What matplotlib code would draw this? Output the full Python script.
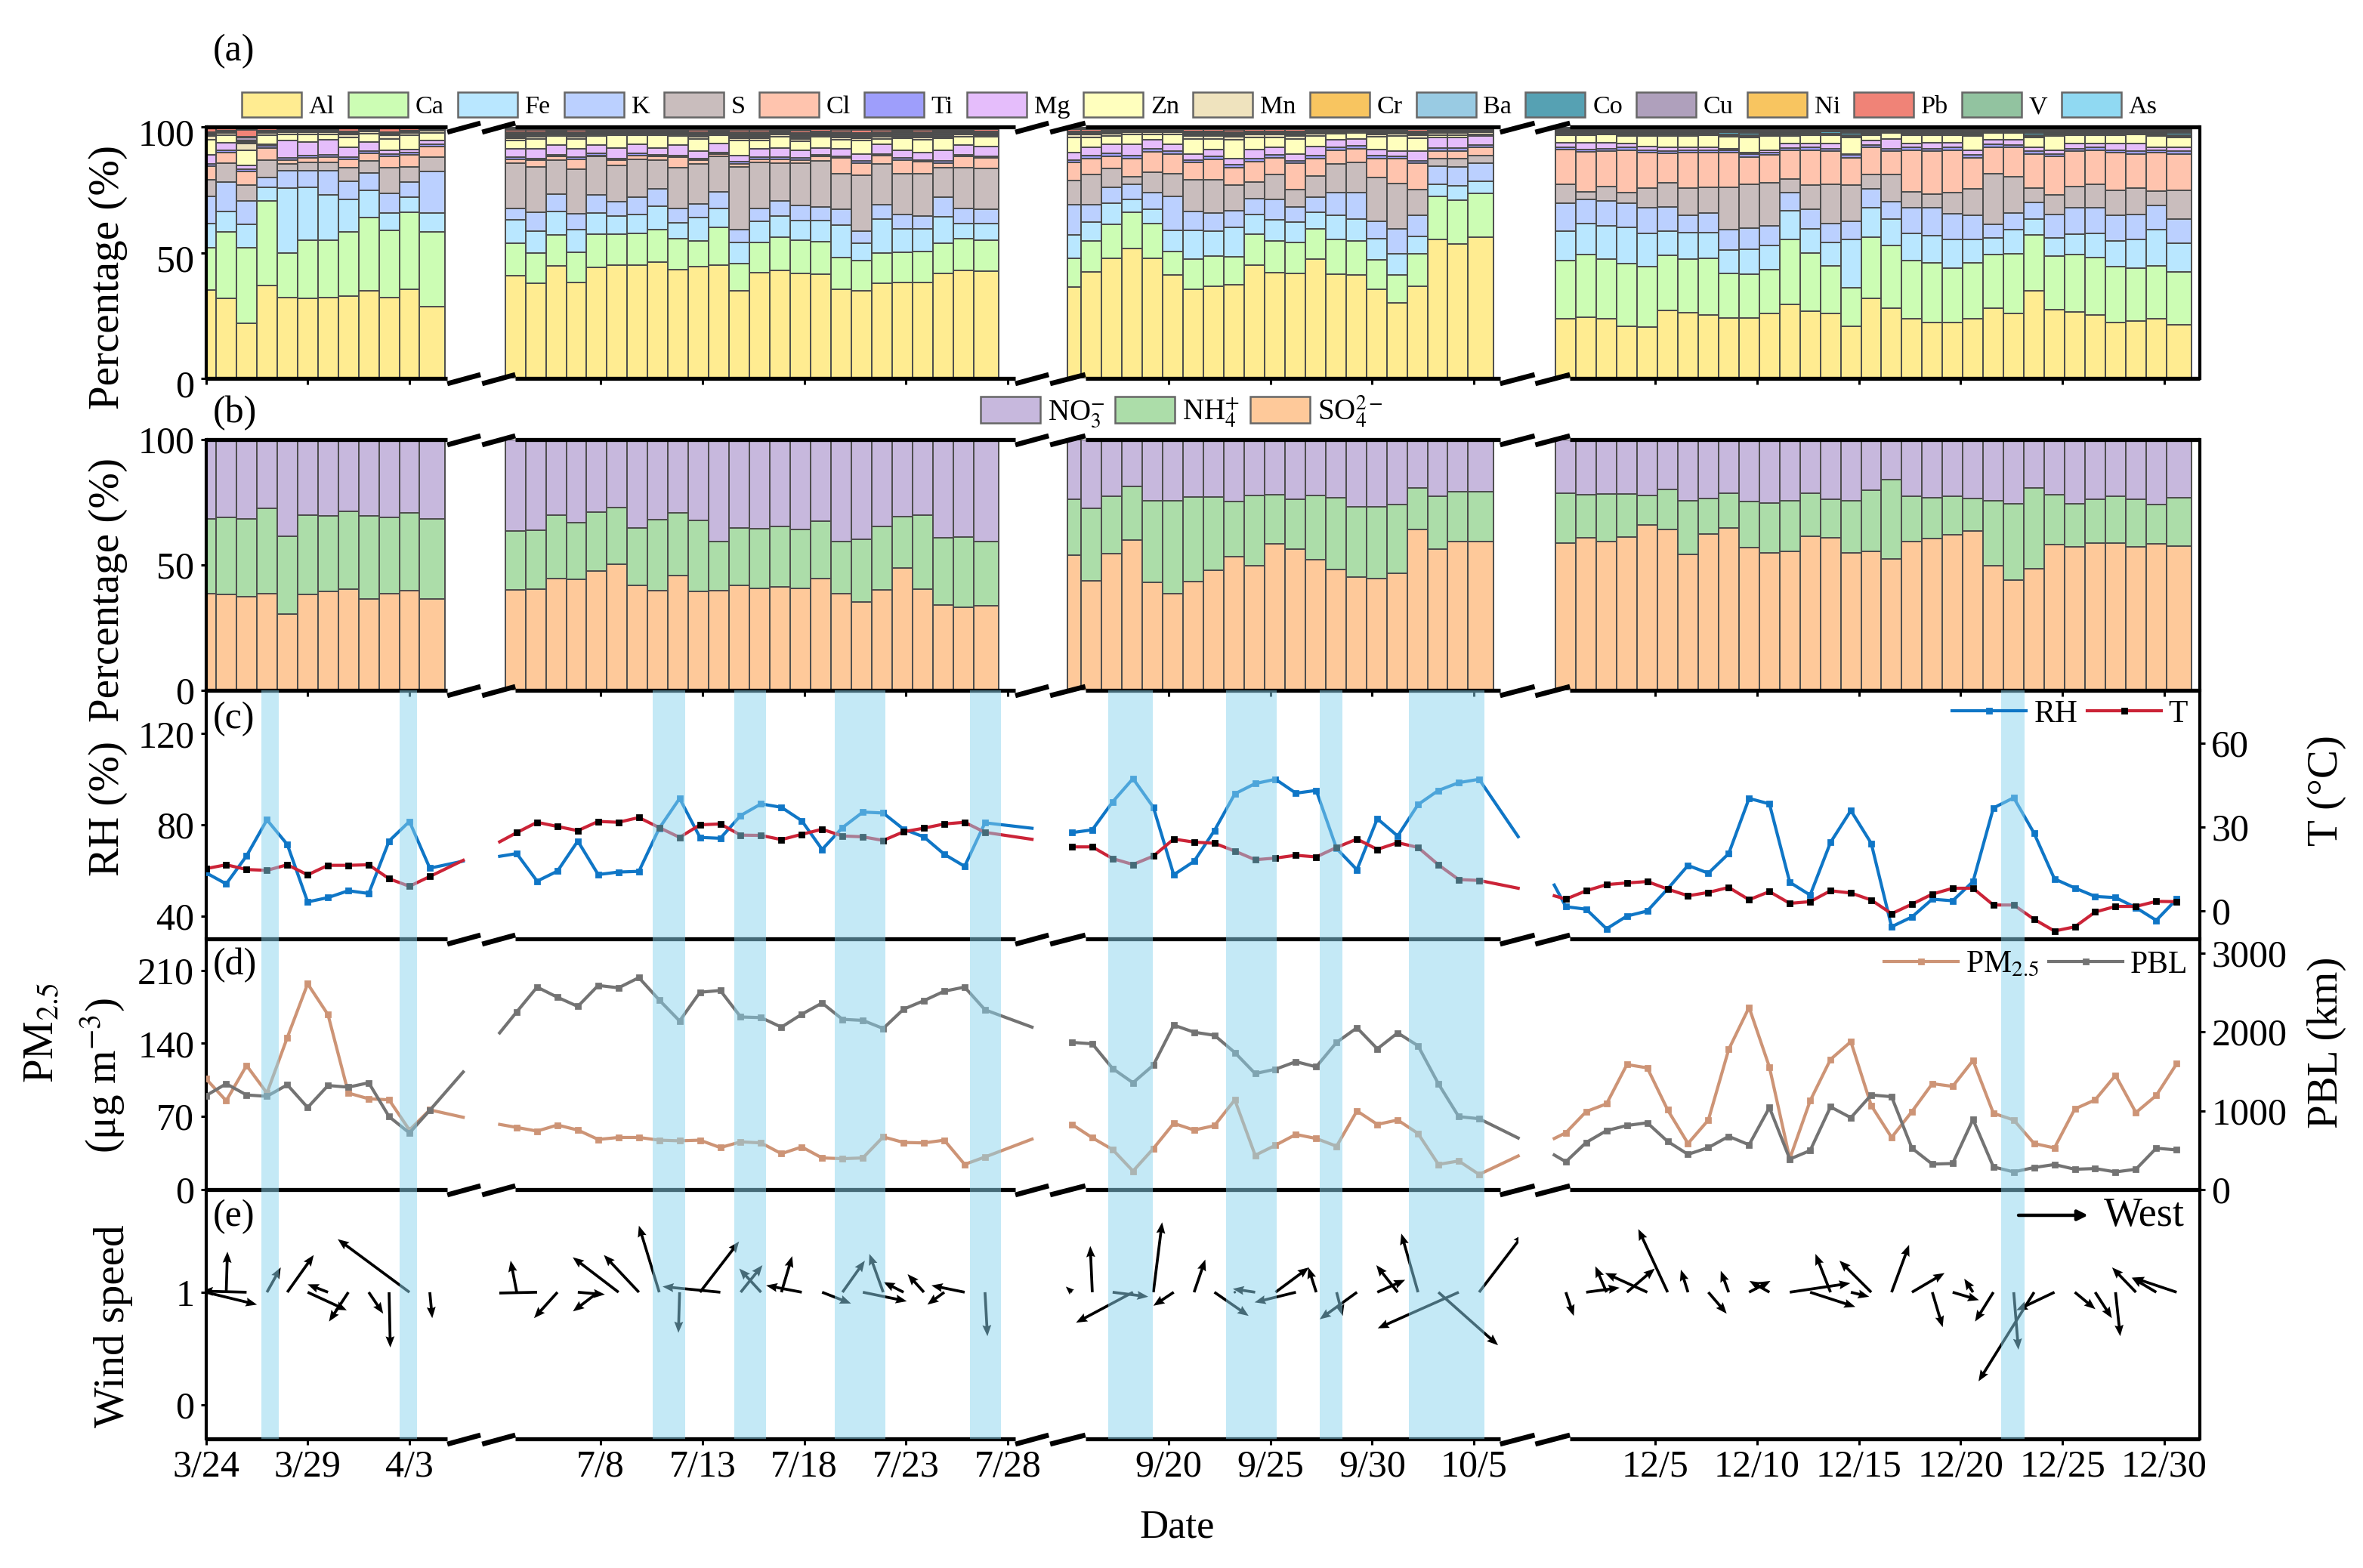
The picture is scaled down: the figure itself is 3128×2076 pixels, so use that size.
import numpy as np
import matplotlib
matplotlib.use("Agg")
import matplotlib.pyplot as plt
from matplotlib.patches import Patch, Rectangle
from matplotlib.transforms import ScaledTranslation

plt.rcParams['font.family'] = ['Liberation Serif', 'DejaVu Serif']
plt.rcParams['mathtext.fontset'] = 'stix'

W, H = 3128, 2076
DAY_PX = 26.95

# top of each stacked layer (%), bars in order: spring 12, summer 24, autumn 21, winter 31
al_top = [35, 31.7, 22, 37, 32, 31.7, 32, 32.7, 34.7, 32, 35.4, 28.4,
          40.9, 37.7, 44.7, 38.2, 44.2, 44.9, 44.9, 46.2, 43.2, 44.4, 45, 34.7, 41.9, 43, 41.7, 41.4, 35.4, 34.7, 37.7, 38.2, 38.2, 41.7, 43, 42.7,
          36.3, 42.3, 47.8, 51.6, 47.8, 41, 35.3, 36.5, 37.3, 45, 42.1, 41.8, 47.5, 41.3, 41, 35.3, 30, 36.6, 55.3, 53.5, 56.3,
          23.8, 24.3, 23.8, 20.8, 20.3, 27, 26, 25.3, 24, 24, 25.8, 29.5, 26.8, 25.8, 20.8, 31.8, 27.8, 23.8, 22.3, 22.1, 23.8, 27.8, 25.8, 34.8, 27.3, 26.5, 25.3, 22.1, 22.8, 23.6, 21.3]
ca_top = [52, 58.2, 52, 70.7, 50, 55, 55, 58.4, 64, 59, 66, 58.4,
          53.7, 49.7, 57.2, 50.2, 57.4, 57.4, 57.7, 59.2, 55.7, 54.7, 60, 45.7, 54.2, 56.2, 55, 54.4, 47.9, 46.7, 50, 50.2, 50.4, 53.7, 55.7, 55,
          47.8, 54.8, 61.3, 66.1, 61.6, 50.6, 47.5, 48.5, 48.3, 57.5, 54.8, 54, 59.5, 55.3, 54.6, 47, 41.1, 49.5, 72.3, 70.8, 73.5,
          46.8, 49.3, 47.3, 45.5, 44.5, 48.8, 47.3, 47.6, 41.8, 41.3, 43.3, 55.3, 50, 44.6, 36, 56.3, 52.8, 46.8, 45.8, 43.8, 45.8, 49.1, 49.5, 57.1, 48.5, 49.1, 48.1, 44.5, 43.8, 44.8, 42.3]
fe_top = [61.5, 66.4, 61.2, 76, 75.7, 76, 73, 71.2, 74.7, 65.7, 72, 65.7,
          63.2, 58.7, 66.4, 59.2, 65.7, 64.7, 65.2, 68.4, 61.9, 63.9, 67.5, 54.2, 62.5, 64.7, 62.7, 62.7, 61, 53.9, 63.4, 59.4, 59.4, 64.2, 61.7, 61.7,
          57, 62.1, 69.6, 71.3, 67.3, 58.8, 58.8, 58.5, 60, 65.3, 63, 62.1, 66.1, 64.8, 63.3, 55.6, 49.5, 56.6, 77.3, 76.6, 78.5,
          58.6, 61.6, 60.8, 60.1, 57.8, 58.5, 58.1, 58.1, 51.1, 51.5, 52.8, 66.8, 59.6, 54.1, 55.3, 67.8, 63.3, 57.8, 56.8, 55.3, 55.3, 55.8, 59.3, 63.3, 55.8, 57.3, 57.8, 54.8, 55.3, 59.3, 53.8]
k_top = [72.5, 78, 70.6, 80, 82.6, 82.7, 82.7, 78.4, 81.8, 73.7, 78, 82.4,
         67.7, 66, 73.2, 65.5, 73, 70.2, 72.2, 75.5, 67.7, 69.4, 74.2, 59.2, 67.7, 70.7, 68.7, 68.2, 67.2, 58.7, 69.2, 65.2, 64.7, 72.2, 67.7, 67.4,
         69.1, 69.1, 76.1, 77.1, 73.8, 72.3, 66.3, 65.8, 66.8, 71.6, 71.1, 68.3, 72, 73.8, 73.8, 62.6, 59.5, 64.8, 84.5, 84.1, 85.5,
         69.6, 71.1, 70.5, 69.8, 67.8, 68.1, 65, 65.8, 59.3, 59.8, 60.6, 73.8, 67.3, 61.5, 62.5, 75.3, 70.3, 67.8, 67.8, 65.5, 64.8, 61.3, 65.8, 70.1, 65.3, 67.8, 67.8, 64.8, 65.1, 68.8, 63.3]
s_top = [79, 85.7, 77, 86.7, 85.4, 86, 86, 83.7, 86.4, 83.7, 84, 88,
         85.7, 84.2, 86.7, 83.2, 88.2, 84.7, 87.2, 86.7, 83.7, 85.2, 88.2, 84, 85.9, 85.7, 85.7, 86.4, 81.5, 80.9, 85.2, 81.5, 81.5, 83.7, 83.7, 83.4,
         78.8, 81, 83.5, 80.1, 82.1, 81.5, 79.1, 79, 76.8, 78.1, 81, 75, 80.5, 85.3, 85.8, 79.8, 77.5, 75, 87.3, 87.3, 88.5,
         77.3, 74.3, 76.3, 73.8, 75.8, 77.8, 75.8, 76, 76, 77.3, 77.8, 79.3, 76.8, 77.3, 76.8, 81.1, 81.1, 74.3, 73.3, 73.8, 75.3, 81.5, 80.3, 75.8, 73.1, 76.3, 77.3, 74.8, 75.8, 74.5, 74.8]
cl_top = [84.5, 89.7, 82.4, 91.5, 86.7, 87.7, 88, 87.2, 89.6, 88.4, 89, 92.2,
          87.2, 86.7, 88.2, 87.2, 88.7, 86.7, 88.7, 88.2, 87.9, 86.7, 89.2, 85.4, 87.2, 87.2, 86.9, 88.2, 87.7, 85.7, 88.5, 86.9, 86.2, 85.7, 88.2, 87.7,
          85.8, 87.5, 88.3, 87.5, 90.1, 89.3, 85.8, 87.1, 83.8, 86.3, 87.8, 85.5, 87.5, 90.8, 91.3, 87.5, 87.3, 85.5, 90.5, 90.5, 91.8,
          91, 90, 90.3, 90.8, 89.8, 89.5, 89.8, 89.8, 89.8, 88.1, 88.8, 90.6, 90.8, 90.3, 87.8, 91.8, 90.3, 90.8, 90.3, 90.8, 87.8, 92, 91.8, 89.3, 88.3, 90.3, 90.8, 89.8, 89.3, 89.8, 89.3]
mg_top = [89, 93.8, 84.7, 93, 94.7, 94, 95, 92, 94, 90.7, 91, 94.7,
          91.2, 91.2, 92.9, 91.2, 92.9, 91.7, 93.2, 91.7, 92.9, 90.4, 93.4, 88.7, 91.2, 91.7, 90.7, 91.5, 91.2, 89.2, 93, 90.7, 89.7, 90.7, 92.7, 92.2,
          89.8, 91.8, 93, 93, 94.8, 93.1, 89.3, 91, 87.3, 91, 92, 89.3, 92.3, 94.8, 95.3, 91, 90.5, 90.3, 95.8, 95.8, 96.3,
          93.8, 93.8, 93.8, 93.3, 92.3, 91.8, 92, 91.8, 91.3, 89.8, 90.8, 93.3, 93.3, 93.5, 89.3, 94.6, 95.3, 93.5, 93.8, 93.8, 90.8, 94.8, 94.8, 91.8, 90.8, 93.3, 93.5, 93.3, 93.3, 91.8, 91.8]
zn_top = [95, 96.7, 90.7, 96.7, 97, 97, 97, 95.7, 97.4, 95.2, 96.7, 97.7,
          94.7, 95.2, 96.4, 95.2, 96.5, 96.7, 96.7, 96.7, 96.4, 95.2, 96.7, 94.7, 94.7, 96.2, 94.2, 96, 95, 94.5, 95.2, 95.4, 95, 95.4, 96.2, 96,
          95.8, 95.8, 96.3, 97.1, 97.1, 97.1, 95.3, 95.3, 94.8, 95.8, 95.8, 95.3, 96.3, 97.3, 97.5, 96.1, 96.3, 95.6, 96.8, 96.8, 97.1,
          96.8, 96.8, 97, 96.3, 96.3, 96.5, 96.5, 96.8, 96, 95.8, 96.3, 96.5, 96.8, 96.6, 95.8, 96.8, 97.5, 96.8, 96.8, 96.8, 96.3, 97.5, 97.5, 95.8, 96.5, 96.8, 96.8, 96.8, 97.1, 96.3, 95.8]

# thin layers, one estimate per season (spring, summer, autumn, winter)
ti_share = [0.9, 0.7, 1.1, 1.0]
mn_share = [0.9, 0.5, 0.7, 0.3]
cr_share = [0.1, 0.2, 0.1, 0.1]
ba_share = [0.2, 0.3, 0.2, 0.2]
co_share = [0.1, 0.2, 0.2, 0.5]
cu_share = [0.3, 0.3, 0.3, 0.3]
ni_share = [0.1, 0.2, 0.1, 0.1]
pb_share = [0.9, 0.5, 0.5, 0.3]
v_share = [0.2, 0.3, 0.3, 0.3]
as_share = [0.2, 0.4, 0.3, 0.4]

so4_top = [38.5, 38.4, 37.3, 38.6, 30.3, 38.2, 39.4, 40.4, 36.3, 38.6, 39.9, 36.3,
           40.2, 40.4, 44.7, 44.2, 47.6, 50.4, 41.9, 39.9, 45.9, 39.6, 39.9, 41.9, 40.6, 41.2, 40.8, 44.7, 38.7, 35.1, 40.2, 48.7, 40.4, 34, 33.1, 33.8,
           53.9, 43.6, 54.4, 59.9, 43.2, 38.6, 43.4, 47.9, 53.2, 49.6, 58.4, 56.2, 52.2, 48.1, 45.2, 44.6, 46.7, 64.3, 56.2, 59.2, 59.2,
           58.6, 60.7, 59.4, 61.1, 66, 64.3, 54.2, 62.2, 64.7, 56.9, 54.9, 55.4, 61.4, 60.9, 54.9, 55.4, 52.4, 59.4, 60.4, 61.9, 63.7, 49.6, 43.9, 48.6, 58.2, 57.1, 58.6, 58.6, 57.1, 58.4, 57.4]
nh4_top = [68.4, 69, 68.5, 72.5, 61.4, 70, 69.5, 71.3, 69.5, 69, 70.7, 68.3,
           63.5, 64, 70, 67, 71.2, 73, 64.8, 68.2, 70.7, 67.8, 59.4, 64.8, 64.5, 65.3, 64.2, 67.5, 59.4, 60.2, 65.3, 69.2, 70, 60.9, 61.1, 59.4,
           76.3, 72.5, 77.5, 81.2, 75.5, 75.5, 77, 77, 75.3, 77.8, 78, 76.3, 77.8, 76.8, 73.2, 73.2, 74, 80.7, 77.5, 79.3, 79.3,
           78.5, 78, 78.2, 78.2, 77.8, 80.1, 75.7, 76.5, 78.5, 75.3, 74.7, 75.7, 78.5, 76.3, 75.5, 79.7, 84, 77.5, 76.8, 77.3, 76.5, 75.5, 74.3, 80.7, 78, 74.5, 76.2, 77.5, 76.2, 74, 76.7]

# lines per season; winter/summer start and summer/spring/autumn end are cut at the break
rh_spring = [59, 54.1, 66.4, 82.2, 71.4, 46.2, 48.1, 51.1, 49.9, 72.9, 81.5, 61, 64.1]
rh_summer = [66.2, 67.4, 55.3, 59.7, 72.9, 58.2, 59.3, 59.6, 78.5, 91.6, 74.5, 74.1, 84.1, 89.2, 87.7, 81.8, 69.2, 78.8, 85.6, 85.2, 78.1, 74.7, 67.1, 61.8, 80.9, 78.5]
rh_autumn = [76.6, 77.8, 90.1, 100.3, 87.7, 58.1, 64, 77.5, 93.6, 98.1, 100, 93.9, 95.1, 69.6, 60.3, 82.7, 75.1, 88.9, 95.1, 98.5, 100, 74.8]
rh_winter = [53.6, 44.1, 43, 34.4, 40, 42.2, 51.9, 62.2, 58.8, 67.4, 91.6, 89.2, 54.8, 49.2, 72.3, 86.3, 71.9, 35.3, 39.6, 47.4, 46.7, 55.1, 87.4, 91.9, 76.3, 56.3, 52.3, 48.6, 48.1, 43.7, 38.1, 47.4]

t_spring = [15.1, 16.5, 14.8, 14.5, 16.5, 12.9, 16.3, 16.3, 16.5, 11.5, 8.8, 12.3, 18.1]
t_summer = [24.7, 28, 31.7, 30.2, 28.7, 32, 31.7, 33.4, 29.8, 26.3, 30.8, 31.1, 27.1, 27, 25.5, 27.4, 29.2, 26.8, 26.5, 25.2, 28.3, 29.6, 31.1, 31.7, 28.1, 25.6]
t_autumn = [22.9, 22.9, 18.7, 16.6, 19.6, 25.7, 24.6, 24.2, 21.4, 18.3, 18.9, 19.9, 19.3, 22.7, 25.7, 22, 24.4, 22.7, 16.5, 11.2, 10.9, 8.1]
t_winter = [5.4, 4.2, 7.2, 9.4, 10, 10.5, 7.8, 5.4, 6.6, 8.4, 4, 6.9, 2.7, 3.3, 7.2, 6.4, 3.9, -1, 2.4, 6, 8.1, 8.1, 2.1, 2.1, -3, -7.2, -5.7, -0.4, 1.6, 1.6, 3.4, 3.3]

pm_spring = [106.2, 85, 118.8, 92.4, 145.5, 197, 167.4, 92.4, 86.9, 85.9, 57, 76.3, 69.2]
pm_summer = [62.4, 59.5, 56, 61.8, 57, 48, 49.9, 49.9, 47.3, 46.7, 47.3, 40.2, 45.7, 44.7, 34.4, 40.8, 30.3, 29.6, 30.3, 50.5, 45.1, 44.7, 47.3, 24.1, 31.2, 48.3]
pm_autumn = [62.4, 49.6, 38.3, 17.7, 39.3, 63.4, 57, 61.2, 85.9, 32.8, 42.5, 52.8, 48.9, 41.5, 75.3, 62.4, 66.6, 53.7, 24.1, 27.4, 14.5, 32.2]
pm_winter = [48.9, 54.4, 74.7, 82.1, 119.7, 116.5, 76.3, 44.1, 66.6, 134.2, 174.4, 117.2, 29.6, 85, 124.6, 141.6, 80.5, 49.9, 74.7, 101.4, 98.8, 123.6, 73.1, 66.6, 44.1, 39.9, 77.2, 85.9, 109.4, 73.7, 90.1, 120.4]

pbl_spring = [1191, 1342, 1200, 1183, 1329, 1041, 1320, 1299, 1355, 925, 718, 1006, 1492]
pbl_summer = [1987, 2254, 2568, 2439, 2323, 2589, 2559, 2688, 2404, 2138, 2503, 2525, 2189, 2181, 2060, 2224, 2366, 2159, 2146, 2043, 2288, 2396, 2516, 2568, 2280, 2060]
pbl_autumn = [1867, 1849, 1535, 1355, 1578, 2086, 1996, 1957, 1738, 1471, 1527, 1622, 1557, 1867, 2052, 1785, 1987, 1824, 1342, 925, 899, 654]
pbl_winter = [439, 353, 598, 748, 813, 847, 611, 447, 533, 675, 568, 1041, 387, 495, 1049, 912, 1200, 1178, 525, 323, 331, 890, 288, 224, 280, 318, 258, 267, 224, 258, 525, 503]

# wind vectors: u in days of axis length, v in y units
wind_u_spring = [2.51, 0.06, -2.2, 0.68, 1.3, 1.92, -1, -0.95, 0.71, 0.06, -3.52, 0.12]
wind_v_spring = [-0.11, 0.36, 0.01, 0.22, 0.33, -0.16, 0.07, -0.26, -0.19, -0.49, 0.47, -0.23]
wind_u_summer = [-0.3, -2.6, -1.15, 1.33, -1.24, -2.25, -1.72, -1, -0.06, 1.92, -2.84, 1.07, -1.07, 0.53, -1.75, 1.42, 1.1, 2.16, -0.68, -0.98, -0.8, -0.83, -1.63, 0.12]
wind_v_summer = [0.28, -0.01, -0.23, -0.02, -0.17, 0.31, 0.33, 0.59, -0.36, 0.45, 0.05, 0.24, 0.21, 0.32, 0.06, -0.1, 0.28, -0.08, 0.34, 0.09, 0.16, -0.11, 0.06, -0.39]
wind_u_autumn = [-0.3, -0.1, 1.75, -2.8, 0.43, -1, 0.55, 1.68, -0.1, -1.1, 1.64, -2.03, -0.39, 0.3, -1.83, 1.37, -1.05, -0.82, 2.93, -3.98, 2.2]
wind_v_autumn = [0.05, 0.41, -0.04, -0.27, 0.62, -0.12, 0.29, -0.21, 0.01, 0.03, 0.22, -0.09, 0.22, -0.21, -0.24, 0.11, 0.24, 0.52, -0.47, -0.32, 0.52]
wind_u_winter = [0.39, 1.64, -0.55, 1.37, -2.07, -1.44, -0.35, 0.9, -0.39, 1.05, -0.98, 2.97, 2.22, -0.74, 0.9, -1.56, 0.86, 1.6, 0.51, 1.29, -0.43, -0.9, 0.23, -2.73, -1.87, 1.01, 0.82, 0.23, -1.17, -1.21, -2.15]
wind_v_winter = [-0.21, 0.04, 0.23, 0.21, 0.17, 0.56, 0.2, -0.19, 0.19, 0.1, 0.1, 0.08, -0.13, 0.34, -0.04, 0.28, 0.42, 0.17, -0.31, -0.07, 0.12, -0.26, -0.51, -0.79, -0.16, -0.15, -0.23, -0.39, 0.22, 0.13, 0.13]

tick_labels = ['3/24', '3/29', '4/3', '7/8', '7/13', '7/18', '7/23', '7/28',
               '9/20', '9/25', '9/30', '10/5', '12/5', '12/10', '12/15', '12/20', '12/25', '12/30']
species = ['Al', 'Ca', 'Fe', 'K', 'S', 'Cl', 'Ti', 'Mg', 'Zn', 'Mn', 'Cr', 'Ba', 'Co', 'Cu', 'Ni', 'Pb', 'V', 'As']
species_col = ['#FFEC91', '#CCFDB4', '#B9E7FF', '#BBD0FF', '#C9BDBD', '#FFC4AE', '#9E9EFB', '#E5BDFB', '#FFFFBE',
               '#EFE3BE', '#F8C560', '#99CBE3', '#56A1B3', '#AFA0BC', '#F8C560', '#F08377', '#92C3A0', '#90D9F2']

# the broken axis: one long x axis, each season shifted to sit where it is drawn
n_bars = [12, 24, 21, 31]
bar_start = [0, 15.2, 42.5, 66.8]
bar_cut = [None, None, 42.32, None]
line_start = [0, 15.27, 42.54, 66.8]
cut_left = [None, 14.43, None, 66.23]
cut_right = [12.64, 40.58, 64.46, None]
x_max = 97.94
tick_pos = [0, 5, 10, 19.39, 24.39, 29.39, 34.39, 39.39, 47.29, 52.29, 57.29, 62.29,
            71.19, 76.19, 81.19, 86.19, 91.19, 96.19]
spine_parts = [(0, 11.86), (15.2, 39.76), (43.2, 63.57), (67, x_max)]
slash_parts = [(11.86, 13.49), (13.57, 15.2), (39.76, 41.4), (41.47, 43.2), (63.57, 65.27), (65.3, 67)]
bands = [(2.73, 3.58), (9.52, 10.37), (21.95, 23.55), (25.96, 27.51), (30.89, 33.38), (37.53, 39.05),
         (44.32, 46.51), (50.11, 52.6), (54.71, 55.83), (59.09, 62.8), (88.18, 89.33)]


def px(x, y):
    return x / W, 1 - y / H


def make_axes(top, bottom):
    ax = fig.add_axes([272.5 / W, 1 - bottom / H, (2912 - 272.5) / W, (bottom - top) / H])
    ax.set_xlim(0, x_max)
    for side in ['top', 'bottom', 'right']:
        ax.spines[side].set_visible(False)
    ax.spines['left'].set_linewidth(1.5)
    ax.set_facecolor('none')
    ax.tick_params(axis='y', length=2.5, width=1.1, pad=3, labelsize=18)
    ax.tick_params(axis='x', length=2.8, width=1.1, pad=2.5, labelsize=18)
    ax.set_xticks(tick_pos)
    ax.set_xticklabels([])
    return ax


def draw_frame(ax, h_px, top=False, right=True):
    trans = ax.get_xaxis_transform()
    levels = [0, 1] if top else [0]
    for lev in levels:
        for a, b in spine_parts:
            ax.plot([a, b], [lev, lev], color='k', lw=1.9, transform=trans, clip_on=False,
                    solid_capstyle='butt', zorder=3)
        for a, b in slash_parts:
            ax.plot([a, b], [lev - 7 / h_px, lev + 5 / h_px], color='k', lw=2.4, transform=trans,
                    clip_on=False, solid_capstyle='butt', zorder=3)
    if right:
        ax.plot([x_max, x_max], [0, 1], color='k', lw=1.5, transform=trans, clip_on=False, zorder=3)


def draw_bands(ax):
    for a, b in bands:
        ax.axvspan(a, b, color='#8BD5EF', alpha=0.5, lw=0, zorder=10)


def bar_geometry():
    left, width = [], []
    for st, n, cut in zip(bar_start, n_bars, bar_cut):
        lefts = list(st - 0.5 + np.arange(n))
        widths = [1] * (n - 1) + [1.25]
        if cut is not None:
            widths[0] = lefts[0] + 1 - cut
            lefts[0] = cut
        left.extend(lefts)
        width.extend(widths)
    return np.array(left), np.array(width)


def season_values(shares):
    return np.repeat(shares, n_bars)


def plot_line(ax, seasons, color, marker_color):
    line = None
    for i, vals in enumerate(seasons):
        n = n_bars[i]
        xs = list(line_start[i] + np.arange(n))
        mark = list(range(n))
        if cut_left[i] is not None:
            xs = [cut_left[i]] + xs
            mark = [m + 1 for m in mark]
        if cut_right[i] is not None:
            xs = xs + [cut_right[i]]
        line, = ax.plot(xs, vals, color=color, lw=1.5, marker='s', ms=2.2, mfc=marker_color,
                        mec=marker_color, markevery=mark, zorder=4)
    return line


fig = plt.figure(figsize=(W / 200, H / 200), dpi=200)

# (a)
ax_a = make_axes(168, 501)
bar_left, bar_width = bar_geometry()
tops = [np.array(al_top), np.array(ca_top), np.array(fe_top), np.array(k_top), np.array(s_top), np.array(cl_top)]
cl_arr = np.array(cl_top)
ti_arr = cl_arr + season_values(ti_share)
tops.append(ti_arr)
tops.append(np.array(mg_top))
zn_arr = np.array(zn_top)
tops.append(zn_arr)
trace = np.array([season_values(s) for s in [mn_share, cr_share, ba_share, co_share, cu_share,
                                             ni_share, pb_share, v_share, as_share]])
trace = trace / trace.sum(axis=0) * (100 - zn_arr)
tops.extend(zn_arr + np.cumsum(trace, axis=0))
bottom = np.zeros(len(bar_left))
for top_vals, col in zip(tops, species_col):
    ax_a.bar(bar_left, top_vals - bottom, width=bar_width, bottom=bottom, align='edge', color=col,
             edgecolor='#4d4d4d', linewidth=0.7)
    bottom = top_vals
ax_a.set_ylim(0, 100)
ax_a.set_yticks([0, 50, 100])
for lab in ax_a.get_yticklabels():
    lab.set_transform(lab.get_transform() + ScaledTranslation(0, -7 / 200, fig.dpi_scale_trans))
draw_frame(ax_a, 333, top=True)
handles = [Patch(facecolor=c, edgecolor='#666666', linewidth=0.9) for c in species_col]
fig.legend(handles, species, loc='upper left', bbox_to_anchor=px(320, 122), ncol=18, frameon=False,
           fontsize=12.3, handlelength=2.31, handleheight=1.11, handletextpad=0.29, columnspacing=0.53,
           borderpad=0, borderaxespad=0)

# (b)
ax_b = make_axes(582, 914)
so4 = np.array(so4_top)
nh4 = np.array(nh4_top)
col_b = ['#FEC99A', '#ACDDA9', '#C7B8DD']
ax_b.bar(bar_left, so4, width=bar_width, align='edge', color=col_b[0], edgecolor='#4d4d4d', linewidth=0.7)
ax_b.bar(bar_left, nh4 - so4, width=bar_width, bottom=so4, align='edge', color=col_b[1], edgecolor='#4d4d4d', linewidth=0.7)
ax_b.bar(bar_left, 100 - nh4, width=bar_width, bottom=nh4, align='edge', color=col_b[2], edgecolor='#4d4d4d', linewidth=0.7)
ax_b.set_ylim(0, 100)
ax_b.set_yticks([0, 50, 100])
draw_frame(ax_b, 332, top=True)
ions = ['NO$_3^{-}$', 'NH$_4^{+}$', 'SO$_4^{2-}$']
handles = [Patch(facecolor=col_b[2], edgecolor='#666666', linewidth=0.9),
           Patch(facecolor=col_b[1], edgecolor='#666666', linewidth=0.9),
           Patch(facecolor=col_b[0], edgecolor='#666666', linewidth=0.9)]
fig.legend(handles, ions, loc='upper left', bbox_to_anchor=px(1298, 521), ncol=3, frameon=False,
           fontsize=14, handlelength=2.03, handleheight=1.03, handletextpad=0.26, columnspacing=0.35,
           borderpad=0, borderaxespad=0)

# (c)
ax_c = make_axes(914, 1243)
rh_line = plot_line(ax_c, [rh_spring, rh_summer, rh_autumn, rh_winter], '#0F76C6', '#0F76C6')
ax_c.set_ylim(30, 139)
ax_c.set_yticks([40, 80, 120])
ax_c.set_xticks([])
draw_frame(ax_c, 329)
ax_c2 = ax_c.twinx()
ax_c2.set_facecolor('none')
t_line = plot_line(ax_c2, [t_spring, t_summer, t_autumn, t_winter], '#CB2337', 'k')
ax_c2.set_ylim(-10, 78.9)
ax_c2.set_yticks([0, 30, 60])
ax_c2.tick_params(axis='y', length=2.5, width=1.1, pad=3, labelsize=18)
for side in ['top', 'bottom', 'left', 'right']:
    ax_c2.spines[side].set_visible(False)
draw_bands(ax_c2)
leg = ax_c2.legend([rh_line, t_line], ['RH', 'T'], loc='upper right', bbox_to_anchor=px(2896, 926),
                   bbox_transform=fig.transFigure, ncol=2, frameon=False, fontsize=15, handlelength=2.35,
                   handletextpad=0.24, columnspacing=0.3, borderpad=0, borderaxespad=0)
leg.set_zorder(20)

# (d)
ax_d = make_axes(1243, 1575)
pm_line = plot_line(ax_d, [pm_spring, pm_summer, pm_autumn, pm_winter], '#CD9476', '#CD9476')
ax_d.set_ylim(0, 240)
ax_d.set_yticks([0, 70, 140, 210])
ax_d.set_xticks([])
draw_frame(ax_d, 332)
ax_d2 = ax_d.twinx()
ax_d2.set_facecolor('none')
pbl_line = plot_line(ax_d2, [pbl_spring, pbl_summer, pbl_autumn, pbl_winter], '#737373', '#737373')
ax_d2.set_ylim(0, 3180)
ax_d2.set_yticks([0, 1000, 2000, 3000])
ax_d2.tick_params(axis='y', length=2.5, width=1.1, pad=3, labelsize=18)
for side in ['top', 'bottom', 'left', 'right']:
    ax_d2.spines[side].set_visible(False)
draw_bands(ax_d2)
leg = ax_d2.legend([pm_line, pbl_line], ['PM$_{2.5}$', 'PBL'], loc='upper right', bbox_to_anchor=px(2896, 1258),
                   bbox_transform=fig.transFigure, ncol=2, frameon=False, fontsize=15, handlelength=2.35,
                   handletextpad=0.24, columnspacing=0.3, borderpad=0, borderaxespad=0)
leg.set_zorder(20)

# (e)
ax_e = make_axes(1575, 1905)
ax_e.set_ylim(-0.3, 1.91)
ax_e.set_yticks([0, 1])
winds = [(wind_u_spring, wind_v_spring), (wind_u_summer, wind_v_summer),
         (wind_u_autumn, wind_v_autumn), (wind_u_winter, wind_v_winter)]
clip_lo = [0, 14.43, 41.5, 66.23]
clip_hi = [12.64, 40.58, 64.46, x_max]
for i, (u, v) in enumerate(winds):
    x = line_start[i] + np.arange(len(u))
    q = ax_e.quiver(x, np.ones(len(u)), u, v, angles='xy', scale_units='xy', scale=1, color='k',
                    width=0.0014, headwidth=3.2, headlength=4, headaxislength=3.6, zorder=4)
    q.set_clip_path(Rectangle((clip_lo[i], -0.3), clip_hi[i] - clip_lo[i], 2.21, transform=ax_e.transData))
ax_e.set_xticklabels(tick_labels)
draw_frame(ax_e, 330)
draw_bands(ax_e)
ax_e.annotate('', xy=px(2764, 1609), xytext=px(2672, 1609), xycoords='figure fraction',
              textcoords='figure fraction', arrowprops=dict(arrowstyle='-|>', color='k', lw=1.6, shrinkA=0, shrinkB=0), zorder=20)
fig.text(*px(2785, 1610), 'West', fontsize=19.5, va='center', ha='left')

# panel letters and axis titles
for letter, y in zip(['(a)', '(b)', '(c)', '(d)', '(e)'], [68, 547, 952, 1278, 1611]):
    fig.text(*px(282, y), letter, fontsize=18, va='center', ha='left')
fig.text(*px(143, 367), 'Percentage (%)', fontsize=20.5, rotation=90, va='center', ha='center')
fig.text(*px(143, 781), 'Percentage (%)', fontsize=20.5, rotation=90, va='center', ha='center')
fig.text(*px(143, 1070), 'RH (%)', fontsize=20.5, rotation=90, va='center', ha='center')
fig.text(*px(56, 1368), 'PM$_{2.5}$', fontsize=20.5, rotation=90, va='center', ha='center')
fig.text(*px(136, 1424), '(μg m$^{-3}$)', fontsize=20.5, rotation=90, va='center', ha='center')
fig.text(*px(150, 1756), 'Wind speed', fontsize=20.5, rotation=90, va='center', ha='center')
fig.text(*px(1558, 2022), 'Date', fontsize=19, va='center', ha='center')
fig.text(*px(3080, 1047), 'T (°C)', fontsize=20.5, rotation=90, va='center', ha='center')
fig.text(*px(3080, 1380), 'PBL (km)', fontsize=20.5, rotation=90, va='center', ha='center')

fig.savefig('out.png', dpi=200, facecolor='white')
